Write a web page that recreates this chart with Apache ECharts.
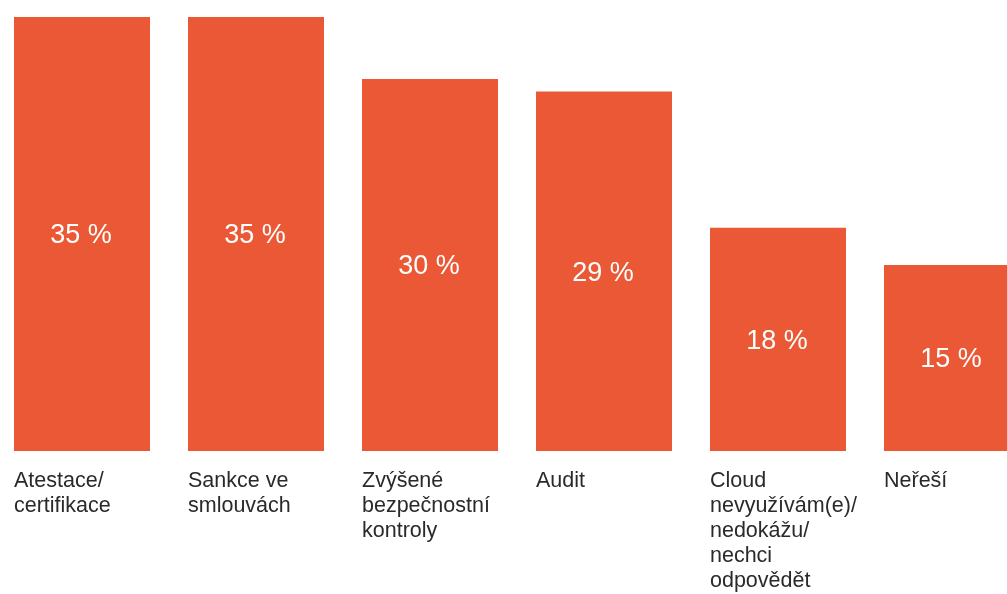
<!DOCTYPE html>
<html>
<head>
<meta charset="utf-8">
<style>
  html, body { margin: 0; padding: 0; background: #ffffff; }
  #chart { width: 1007px; height: 594px; }
</style>
<script src="https://cdn.jsdelivr.net/npm/echarts@6/dist/echarts.min.js"></script>
</head>
<body>
<div id="chart"></div>
<script>
// Category labels (already broken into lines as they are set under each bar)
const categories = [
  'Atestace/\ncertifikace',
  'Sankce ve\nsmlouvách',
  'Zvýšené\nbezpečnostní\nkontroly',
  'Audit',
  'Cloud\nnevyužívám(e)/\nnedokážu/\nnechci\nodpovědět',
  'Neřeší'
];
// Share of respondents, in percent
const shares = [35, 35, 30, 29, 18, 15];

const BAR_COLOR = '#EA5835';
const FONT = '"Liberation Sans", Arial, Helvetica, sans-serif';

const chart = echarts.init(document.getElementById('chart'), null, { renderer: 'canvas' });

chart.setOption({
  animation: false,
  backgroundColor: '#ffffff',
  grid: {
    left: -5, right: -32, top: 17, bottom: 143,
    containLabel: false,
    outerBoundsMode: 'none'
  },
  xAxis: {
    type: 'category',
    data: categories,
    axisLine: { show: false },
    axisTick: { show: false },
    splitLine: { show: false },
    axisLabel: {
      interval: 0,
      margin: 18,
      align: 'left',
      verticalAlign: 'top',
      // start each label at the left edge of its bar
      padding: [0, 0, 0, -68],
      color: '#2a2a2a',
      fontFamily: FONT,
      fontSize: 21.5,
      lineHeight: 25
    }
  },
  yAxis: {
    type: 'value',
    min: 0,
    max: 35,
    show: false
  },
  series: [{
    type: 'bar',
    data: shares,
    barWidth: 136,
    itemStyle: { color: BAR_COLOR },
    label: {
      show: true,
      position: 'inside',
      offset: [-1, 2],
      color: '#ffffff',
      fontFamily: FONT,
      fontSize: 27,
      formatter: p => p.value + ' %'
    }
  }]
});
</script>
</body>
</html>
